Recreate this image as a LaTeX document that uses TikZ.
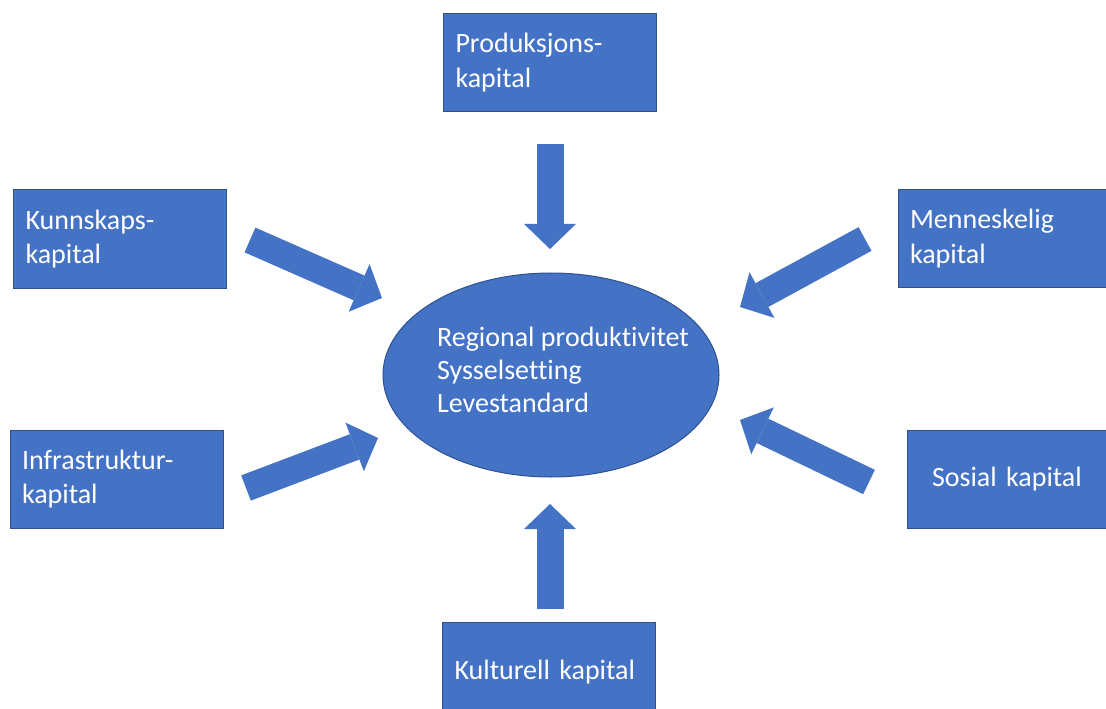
\documentclass[tikz,border=0pt]{standalone}
\usepackage{fontspec}
\setmainfont{Carlito}[Ligatures=NoCommon]
\usetikzlibrary{arrows.meta,shapes.geometric}
\definecolor{kapblue}{HTML}{4472C4}
\definecolor{kapedge}{HTML}{2F528F}
\begin{document}
\begin{tikzpicture}[x=0.75pt,y=-0.75pt,
  kapbox/.style={rectangle, fill=kapblue, draw=kapedge, line width=0.75pt, text=white, inner xsep=9pt, inner ysep=0pt, minimum height=73.5pt, text width=141.75pt, align=left, font=\fontsize{21pt}{26pt}\selectfont},
  kaparrow/.style={kapblue, line width=20.25pt, -{Triangle[width=39pt,length=18.75pt,line width=0pt]}}]
\useasboundingbox (0,0) rectangle (1106,709);
\node[kapbox] (prod) at (550,62.5){Produksjons-\\kapital};
\node[kapbox] (kunn) at (120,239){Kunnskaps-\\kapital};
\node[kapbox] (menn) at (1004.5,238.5){Menneskelig\\kapital};
\node[kapbox] (infra) at (116.5,479){Infrastruktur-\\kapital};
\node[kapbox, inner xsep=18.75pt, text width=122.25pt] (sosial) at (1013.5,479){Sosial kapital};
\node[kapbox, minimum height=75pt] (kult) at (549,672){Kulturell kapital};
\node[ellipse, fill=kapblue, draw=kapedge, line width=0.75pt, minimum width=252pt, minimum height=153pt, inner sep=0pt] (goal) at (551,375){};
\node[text=white, align=left, inner sep=0pt, font=\fontsize{21pt}{25pt}\selectfont] (goaltext) at (563,370){Regional produktivitet\\Sysselsetting\\Levestandard};
\coordinate (prodtail) at (550,144);
\coordinate (prodtip) at (550,249);
\draw[kaparrow](prodtail) -- (prodtip);
\coordinate (kulttail) at (550,609);
\coordinate (kulttip) at (550,504);
\draw[kaparrow](kulttail) -- (kulttip);
\coordinate (kunntail) at (250,240);
\coordinate (kunntip) at (382,298);
\draw[kaparrow](kunntail) -- (kunntip);
\coordinate (menntail) at (865,239);
\coordinate (menntip) at (740,307);
\draw[kaparrow](menntail) -- (menntip);
\coordinate (infratail) at (246,488);
\coordinate (infratip) at (378,438);
\draw[kaparrow](infratail) -- (infratip);
\coordinate (sosialtail) at (869,482);
\coordinate (sosialtip) at (740,420);
\draw[kaparrow](sosialtail) -- (sosialtip);
\end{tikzpicture}
\end{document}
